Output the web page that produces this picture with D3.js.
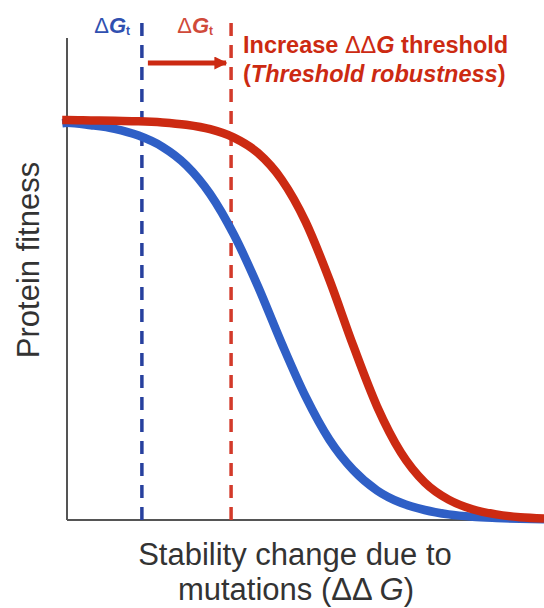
<!DOCTYPE html>
<html>
<head>
<meta charset="utf-8">
<script src="https://cdn.jsdelivr.net/npm/d3@7"></script>
<style>
  body { margin: 0; background: #fff; }
  svg { display: block; font-family: "Liberation Sans", Arial, sans-serif; }
</style>
</head>
<body>
<svg id="chart" width="544" height="608"></svg>
<script>
// stability change (arbitrary units) and fitness
const ddg = [-0.1, 0, 0.5, 1, 1.5, 2, 2.5, 3, 3.5, 4, 4.5, 5, 5.5, 6, 6.5, 7, 7.5, 8, 8.5, 9, 9.5, 10];
const blueFitness = [0.992, 0.993, 0.987, 0.978, 0.961, 0.933, 0.887, 0.815, 0.713, 0.585, 0.442, 0.309, 0.201, 0.125, 0.074, 0.043, 0.025, 0.014, 0.008, 0.005, 0.003, 0.002];
const redFitness = [1.0, 1.0, 0.999, 0.998, 0.997, 0.994, 0.988, 0.977, 0.956, 0.918, 0.851, 0.746, 0.601, 0.436, 0.284, 0.169, 0.094, 0.051, 0.027, 0.014, 0.007, 0.004];

// thresholds (x position)
const thresholdBlue = 1.57;
const thresholdRed = 3.44;

const blueColor = '#2f5fc6';
const redColor = '#cc2a12';

const svg = d3.select('#chart');

const x = d3.scaleLinear().domain([0, 10]).range([67, 544]);
const y = d3.scaleLinear().domain([0, 1]).range([520, 120]);

/** axes as plain lines */
svg.append('line')
    .attr('x1', x(0)).attr('x2', x(0))
    .attr('y1', y(1.205)).attr('y2', y(0))
    .attr('stroke', '#555').attr('stroke-width', 2);
svg.append('line')
    .attr('x1', x(0)).attr('x2', x(10))
    .attr('y1', y(0)).attr('y2', y(0))
    .attr('stroke', '#555').attr('stroke-width', 2);

/** threshold dashed lines */
svg.append('line')
    .attr('x1', x(thresholdBlue)).attr('x2', x(thresholdBlue))
    .attr('y1', 23).attr('y2', y(0))
    .attr('stroke', '#27409e').attr('stroke-width', 3.5)
    .attr('stroke-dasharray', '13,9');
svg.append('line')
    .attr('x1', x(thresholdRed)).attr('x2', x(thresholdRed))
    .attr('y1', 23).attr('y2', y(0))
    .attr('stroke', '#d33a2a').attr('stroke-width', 3.5)
    .attr('stroke-dasharray', '13,9');

/** curves */
const line = d3.line()
    .x(d => x(d[0]))
    .y(d => y(d[1]))
    .curve(d3.curveMonotoneX);

svg.append('path')
    .datum(d3.zip(ddg, blueFitness))
    .attr('d', line)
    .attr('fill', 'none')
    .attr('stroke', blueColor)
    .attr('stroke-width', 8.5);

svg.append('path')
    .datum(d3.zip(ddg, redFitness))
    .attr('d', line)
    .attr('fill', 'none')
    .attr('stroke', redColor)
    .attr('stroke-width', 8.5);

/** arrow */
svg.append('defs').append('marker')
    .attr('id', 'head')
    .attr('viewBox', '0 0 10 10')
    .attr('refX', 9).attr('refY', 5)
    .attr('markerWidth', 2.6).attr('markerHeight', 2.6)
    .attr('orient', 'auto')
    .append('path')
    .attr('d', 'M0,0L10,5L0,10z')
    .attr('fill', redColor);

svg.append('line')
    .attr('x1', x(thresholdBlue) + 6).attr('x2', x(thresholdRed) - 5)
    .attr('y1', 63).attr('y2', 63)
    .attr('stroke', redColor).attr('stroke-width', 5)
    .attr('marker-end', 'url(#head)');

/** threshold labels */
const gLabel = (right, color) => {
    const t = svg.append('text')
        .attr('x', right).attr('y', 33)
        .attr('text-anchor', 'end')
        .attr('fill', color)
        .attr('font-size', 22);
    t.append('tspan').text('Δ');
    t.append('tspan').attr('font-weight', 'bold').attr('font-style', 'italic').text('G');
    t.append('tspan').attr('font-size', 12).attr('font-weight', 'bold').attr('dy', 2).text('t');
};
gLabel(130, '#3050b0');
gLabel(213, '#d04a3a');

const note = svg.append('text')
    .attr('x', 243).attr('y', 53)
    .attr('fill', redColor)
    .attr('font-size', 23.5)
    .attr('font-weight', 'bold');
note.append('tspan').text('Increase ');
note.append('tspan').attr('font-weight', 'normal').text('ΔΔ');
note.append('tspan').attr('font-style', 'italic').text('G');
note.append('tspan').text(' threshold');

const note2 = svg.append('text')
    .attr('x', 243).attr('y', 82)
    .attr('fill', redColor)
    .attr('font-size', 23.5)
    .attr('font-weight', 'bold');
note2.append('tspan').text('(');
note2.append('tspan').attr('font-style', 'italic').text('Threshold robustness');
note2.append('tspan').text(')');

/** axis titles */
svg.append('text')
    .attr('transform', 'translate(39,260) rotate(-90)')
    .attr('text-anchor', 'middle')
    .attr('fill', '#333')
    .attr('font-size', 31)
    .text('Protein fitness');

svg.append('text')
    .attr('x', 295).attr('y', 565)
    .attr('text-anchor', 'middle')
    .attr('fill', '#333')
    .attr('font-size', 31)
    .text('Stability change due to');

const xt = svg.append('text')
    .attr('x', 296).attr('y', 600)
    .attr('text-anchor', 'middle')
    .attr('fill', '#333')
    .attr('font-size', 31);
xt.append('tspan').text('mutations (ΔΔ ');
xt.append('tspan').attr('font-style', 'italic').text('G');
xt.append('tspan').text(')');
</script>
</body>
</html>
